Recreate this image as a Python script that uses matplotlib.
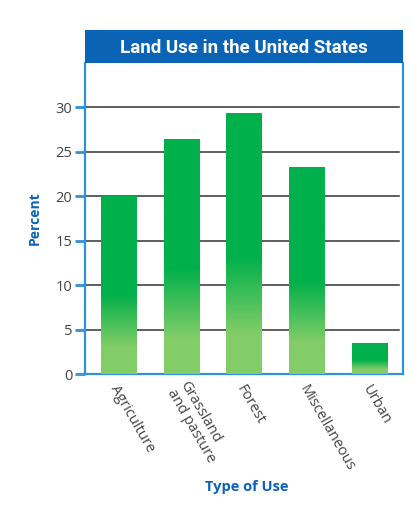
import numpy as np
import matplotlib
matplotlib.use("Agg")
import matplotlib.pyplot as plt
from matplotlib.colors import LinearSegmentedColormap

# data
categories = ["Agriculture", "Grassland\nand pasture", "Forest", "Miscellaneous", "Urban"]
percent = [20.0, 26.4, 29.3, 23.2, 3.4]
yticks = [0, 5, 10, 15, 20, 25, 30]

blue_dark = "#0b63b6"
blue_line = "#2d91dc"
green_top = "#00b04b"
green_bot = "#82cd68"

plt.rcParams['font.family'] = ['Open Sans', 'DejaVu Sans']

fig = plt.figure(figsize=(4.14, 5.07), dpi=100)
ax = fig.add_axes([0.2053, 0.2623, 0.7681, 0.6134])

# title band
tax = fig.add_axes([0.2053, 0.8757, 0.7681, 0.0651])
tax.set_facecolor(blue_dark)
tax.set_xticks([])
tax.set_yticks([])
for s in tax.spines.values():
    s.set_visible(False)
tax.text(0.5, 0.47, "Land Use in the United States", color="white", fontsize=13.5,
         fontweight="bold", ha="center", va="center",
         family=['Liberation Sans Narrow', 'Roboto', 'DejaVu Sans'])

# bars with gradient towards the base
cmap = LinearSegmentedColormap.from_list("g", [(0, green_bot), (0.15, green_bot), (0.45, green_top), (1, green_top)])
width = 0.56
grad = np.linspace(0, 1, 200).reshape(-1, 1)
x = np.arange(len(categories))
for xi, h in zip(x, percent):
    ax.imshow(grad, extent=[xi - width / 2, xi + width / 2, 0, h], origin="lower",
              cmap=cmap, aspect="auto", zorder=3)

# grid lines
for t in yticks[1:]:
    ax.plot([-0.55, 4.47], [t, t], color="#333333", lw=1.1, zorder=1)

ax.set_xlim(-0.53, 4.53)
ax.set_ylim(0, 35)
ax.set_yticks(yticks)
ax.set_yticklabels([str(t) for t in yticks], color="#444444", fontsize=10.5)
ax.tick_params(axis="y", direction="out", length=7, width=2, color=blue_line, pad=2)
ax.set_xticks([])
for side in ["left", "right", "bottom"]:
    ax.spines[side].set_color(blue_line)
    ax.spines[side].set_linewidth(1.6)
ax.spines["top"].set_visible(False)

for xi, lab in zip(x, categories):
    ax.text(xi - 0.07, -0.04, lab, transform=ax.get_xaxis_transform(), rotation=-60,
            rotation_mode="anchor", ha="left", va="center", fontsize=10.5,
            color="#444444", linespacing=1.0)

ax.set_ylabel("Percent", color=blue_dark, fontsize=10, fontweight="bold", labelpad=10)
fig.text(0.595, 0.04, "Type of Use", color=blue_dark, fontsize=10.5, fontweight="bold",
         ha="center", va="center")

fig.savefig("out.png", dpi=100)
